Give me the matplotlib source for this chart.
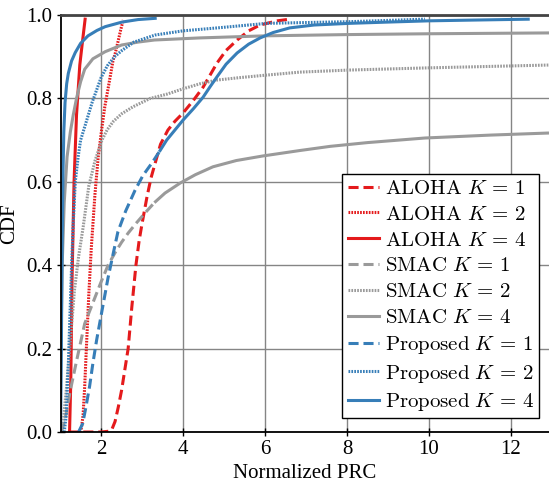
import matplotlib
matplotlib.use("Agg")
import matplotlib.pyplot as plt
import numpy as np

plt.rcParams['font.family'] = ['Liberation Serif', 'DejaVu Serif']
plt.rcParams['mathtext.fontset'] = 'cm'

red = '#e41a1c'
blue = '#377eb8'
gray = '#9a9a9a'

# ALOHA
aloha1_x = [1.2, 2.0, 2.2, 2.27, 2.34, 2.42, 2.5, 2.58, 2.66, 2.75, 2.85, 2.93, 3.0, 3.12, 3.22, 3.32, 3.45,
            3.63, 3.8, 4.0, 4.25, 4.49, 4.83, 5.05, 5.32, 5.6, 5.88, 6.3, 6.6]
aloha1_y = [0, 0, 0.002, 0.008, 0.025, 0.06, 0.1, 0.15, 0.2, 0.3, 0.4, 0.46, 0.5, 0.564, 0.61, 0.645, 0.69,
            0.724, 0.745, 0.765, 0.795, 0.827, 0.885, 0.915, 0.94, 0.962, 0.976, 0.986, 0.99]
aloha2_x = [1.48, 1.52, 1.56, 1.6, 1.64, 1.70, 1.76, 1.85, 1.93, 2.02, 2.09, 2.2, 2.29, 2.35, 2.41, 2.48, 2.54]
aloha2_y = [0, 0.01, 0.04, 0.11, 0.2, 0.33, 0.44, 0.57, 0.66, 0.73, 0.78, 0.84, 0.89, 0.91, 0.935, 0.965, 0.988]
aloha4_x = [1.23, 1.26, 1.29, 1.34, 1.4, 1.48, 1.55, 1.61]
aloha4_y = [0, 0.12, 0.36, 0.6, 0.76, 0.88, 0.94, 0.99]

# SMAC
smac1_x = [1.02, 1.06, 1.12, 1.25, 1.4, 1.6, 1.8, 2.0, 2.17, 2.34, 2.5, 2.66, 2.85, 3.07, 3.3, 3.56, 3.93, 4.3,
           4.73, 5.3, 5.95, 6.85, 7.59, 8.5, 9.9, 11.5, 12.93]
smac1_y = [0, 0.01, 0.03, 0.1, 0.17, 0.26, 0.31, 0.36, 0.4, 0.43, 0.455, 0.477, 0.5, 0.525, 0.55, 0.573, 0.597,
           0.617, 0.636, 0.651, 0.662, 0.675, 0.685, 0.694, 0.705, 0.712, 0.717]
smac2_x = [1.05, 1.15, 1.25, 1.35, 1.45, 1.56, 1.7, 1.85, 2.02, 2.15, 2.3, 2.5, 2.78, 3.2, 3.6, 4.0, 4.41, 4.83,
           5.4, 6.05, 6.85, 8.07, 9.9, 12.93]
smac2_y = [0, 0.1, 0.22, 0.34, 0.42, 0.49, 0.59, 0.65, 0.70, 0.725, 0.745, 0.763, 0.78, 0.80, 0.81, 0.823, 0.835,
           0.844, 0.85, 0.856, 0.863, 0.868, 0.873, 0.88]
smac4_x = [1.0, 1.02, 1.05, 1.1, 1.17, 1.25, 1.32, 1.4, 1.5, 1.6, 1.8, 2.1, 2.5, 2.9, 3.3, 4.4, 6.0, 8.0, 10.0, 12.93]
smac4_y = [0, 0.2, 0.4, 0.55, 0.66, 0.72, 0.76, 0.80, 0.84, 0.87, 0.895, 0.912, 0.928, 0.935, 0.94, 0.945, 0.95,
           0.953, 0.955, 0.957]

# Proposed
prop1_x = [1.45, 1.55, 1.63, 1.72, 1.8, 1.89, 2.02, 2.17, 2.3, 2.41, 2.6, 2.83, 3.02, 3.24, 3.42, 3.6, 3.8, 4.0,
           4.25, 4.49, 4.66, 4.83, 5.05, 5.32, 5.6, 5.88, 6.2, 6.6, 7.2, 8.07, 9.0, 10.0, 11.2, 12.46]
prop1_y = [0, 0.02, 0.06, 0.11, 0.165, 0.22, 0.29, 0.37, 0.43, 0.48, 0.53, 0.58, 0.615, 0.645, 0.672, 0.70,
           0.724, 0.748, 0.775, 0.803, 0.828, 0.852, 0.882, 0.909, 0.93, 0.945, 0.958, 0.969, 0.976, 0.98, 0.983,
           0.986, 0.988, 0.99]
prop2_x = [1.1, 1.15, 1.2, 1.24, 1.28, 1.32, 1.37, 1.44, 1.5, 1.61, 1.78, 2.0, 2.15, 2.33, 2.51, 2.8, 3.32, 4.0,
           4.83, 6.05, 8.07, 9.9]
prop2_y = [0, 0.04, 0.16, 0.28, 0.4, 0.5, 0.6, 0.66, 0.70, 0.735, 0.79, 0.85, 0.878, 0.90, 0.915, 0.935, 0.952,
           0.962, 0.969, 0.98, 0.984, 0.99]
prop4_x = [1.01, 1.03, 1.05, 1.07, 1.09, 1.12, 1.16, 1.2, 1.28, 1.37, 1.5, 1.68, 1.9, 2.1, 2.51, 2.9, 3.32]
prop4_y = [0, 0.2, 0.45, 0.62, 0.72, 0.79, 0.835, 0.86, 0.89, 0.91, 0.932, 0.95, 0.963, 0.972, 0.983, 0.989, 0.992]

dash = (3.3, 1.6)
dot = (0.55, 0.4)
lw = 2.2

fig = plt.figure(figsize=(5.49, 4.82), dpi=100)
ax = fig.add_axes([0.111, 0.1037, 0.889, 0.8652])


def split_plot(x, y, ycut, color, label):
    x = np.array(x)
    y = np.array(y)
    k = np.searchsorted(y, ycut)
    ax.plot(x[:k + 1], y[:k + 1], color=color, lw=lw, dashes=dash, label=label)
    ax.plot(x[k:], y[k:], color=color, lw=lw, solid_capstyle='butt')


def lab(name, k):
    return r'$\mathrm{' + name + r'}\ K\,=\,' + str(k) + '$'


ax.plot(aloha1_x, aloha1_y, color=red, lw=lw, dashes=dash, label=lab('ALOHA', 1))
ax.plot(aloha2_x, aloha2_y, color=red, lw=lw, dashes=dot, label=lab('ALOHA', 2))
ax.plot(aloha4_x, aloha4_y, color=red, lw=lw, label=lab('ALOHA', 4))
split_plot(smac1_x, smac1_y, 0.53, gray, lab('SMAC', 1))
ax.plot(smac2_x, smac2_y, color=gray, lw=lw, dashes=dot, label=lab('SMAC', 2))
ax.plot(smac4_x, smac4_y, color=gray, lw=lw, label=lab('SMAC', 4))
split_plot(prop1_x, prop1_y, 0.66, blue, lab('Proposed', 1))
ax.plot(prop2_x, prop2_y, color=blue, lw=lw, dashes=dot, label=lab('Proposed', 2))
ax.plot(prop4_x, prop4_y, color=blue, lw=lw, label=lab('Proposed', 4))

ax.set_xlim(1.02, 12.93)
ax.set_ylim(0, 1)
ax.set_xticks([2, 4, 6, 8, 10, 12])
ax.set_yticks([0, 0.2, 0.4, 0.6, 0.8, 1.0])
ax.set_yticklabels(['0.0', '0.2', '0.4', '0.6', '0.8', '1.0'])
ax.grid(True, color='#858585', lw=1)
ax.set_axisbelow(True)
ax.tick_params(direction='inout', length=6, width=1, labelsize=15, pad=3)
ax.spines['top'].set_color('#444444')
ax.spines['top'].set_linewidth(2)
ax.spines['left'].set_linewidth(1.3)
ax.spines['bottom'].set_linewidth(1.3)
ax.spines['right'].set_visible(False)
ax.set_xlabel('Normalized PRC', fontsize=15, labelpad=3)
ax.set_ylabel('CDF', fontsize=15, labelpad=5)

leg = ax.legend(loc='lower right', bbox_to_anchor=(0.9795, 0.0336), borderaxespad=0,
                fontsize=15, frameon=True, fancybox=False, edgecolor='black',
                framealpha=1, handlelength=1.5, handletextpad=0.28, labelspacing=0.3,
                borderpad=0.25)
leg.get_frame().set_linewidth(1)

fig.savefig('out.png', dpi=100)
